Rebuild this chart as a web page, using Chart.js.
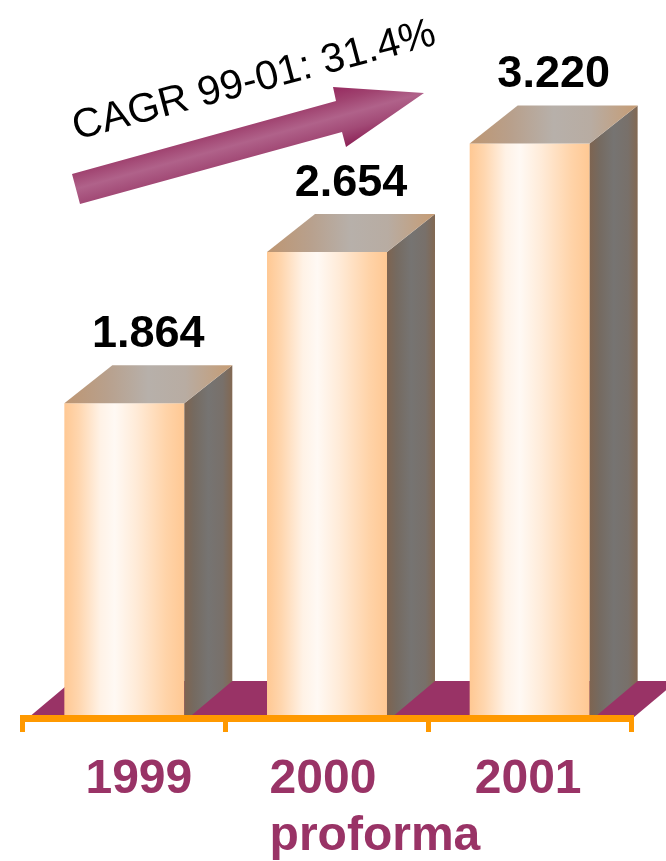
<!DOCTYPE html>
<html><head><meta charset="utf-8">
<script src="https://cdn.jsdelivr.net/npm/chart.js@4.4.1/dist/chart.umd.min.js"></script>
<style>html,body{margin:0;padding:0;background:#fff;} #wrap{width:666px;height:861px;}</style>
</head><body><div id="wrap"><canvas id="c" width="666" height="861"></canvas></div>
<script>
// ---- data ----
const categories = ['1999', ['2000', 'proforma'], '2001'];
const revenues = [1864, 2654, 3220];
const valueLabels = ['1.864', '2.654', '3.220'];
const growthLabel = 'CAGR 99-01: 31.4%';

// ---- styling ----
const FONT = '"Liberation Sans", Arial, Helvetica, sans-serif';
const PURPLE = '#993366';
const ORANGE = '#FF9900';
const DEPTH = {dx: 48, dy: 38};
const FLOOR = {dx: 44, dy: 37};
const BAR_PCT = 0.592;
const labelShift = [14.5, -4, -1.5];

function frontGradient(c) {
  const chart = c.chart;
  const xs = chart.scales && chart.scales.x;
  if (!xs || c.dataIndex === undefined || !chart.chartArea) return '#FFCC99';
  const cx = xs.getPixelForValue(c.dataIndex);
  const w = xs.width / chart.data.labels.length * BAR_PCT;
  const g = chart.ctx.createLinearGradient(cx - w / 2, 0, cx + w / 2, 0);
  g.addColorStop(0, '#FFC893');
  g.addColorStop(0.12, '#FFD6AE');
  g.addColorStop(0.3, '#FFF2E6');
  g.addColorStop(0.42, '#FFF9F4');
  g.addColorStop(0.6, '#FFEBD8');
  g.addColorStop(0.85, '#FFD3A8');
  g.addColorStop(1, '#FFC893');
  return g;
}

const decor = {
  id: 'decor',
  beforeDatasetsDraw(chart) {
    const {ctx, chartArea: a} = chart;
    const y0 = a.bottom, y1 = a.bottom - FLOOR.dy;
    const l = a.left + 5, r = a.right + 2;
    ctx.save();
    ctx.fillStyle = PURPLE;
    ctx.beginPath();
    ctx.moveTo(l, y0); ctx.lineTo(r, y0);
    ctx.lineTo(r + FLOOR.dx, y1); ctx.lineTo(l + FLOOR.dx, y1);
    ctx.closePath(); ctx.fill();
    ctx.restore();
  },
  afterDatasetsDraw(chart) {
    const {ctx, chartArea: a} = chart;
    const meta = chart.getDatasetMeta(0);
    ctx.save();
    meta.data.forEach((bar, i) => {
      const p = bar.getProps(['x', 'y', 'base', 'width'], true);
      const L = p.x - p.width / 2, R = p.x + p.width / 2, T = p.y, B = Math.min(p.base, a.bottom);
      // side face
      let g = ctx.createLinearGradient(R, 0, R + DEPTH.dx, 0);
      g.addColorStop(0, '#7E6450');
      g.addColorStop(0.2, '#756A60');
      g.addColorStop(0.5, '#767472');
      g.addColorStop(0.8, '#78706A');
      g.addColorStop(1, '#826852');
      ctx.fillStyle = g;
      ctx.beginPath();
      ctx.moveTo(R, T); ctx.lineTo(R + DEPTH.dx, T - DEPTH.dy);
      ctx.lineTo(R + DEPTH.dx, B - FLOOR.dy);
      ctx.lineTo(R + DEPTH.dx - FLOOR.dx, B);
      ctx.lineTo(R, B); ctx.closePath(); ctx.fill();
      // top face
      g = ctx.createLinearGradient(L, 0, R + DEPTH.dx, 0);
      g.addColorStop(0, '#BE9672');
      g.addColorStop(0.25, '#B8A08C');
      g.addColorStop(0.5, '#B7B0AA');
      g.addColorStop(0.72, '#B8ACA2');
      g.addColorStop(1, '#C69C74');
      ctx.fillStyle = g;
      ctx.beginPath();
      ctx.moveTo(L, T); ctx.lineTo(R, T);
      ctx.lineTo(R + DEPTH.dx, T - DEPTH.dy); ctx.lineTo(L + DEPTH.dx, T - DEPTH.dy);
      ctx.closePath(); ctx.fill();
      // value label
      ctx.fillStyle = '#000';
      ctx.font = 'bold 45px ' + FONT;
      ctx.textAlign = 'center';
      ctx.textBaseline = 'alphabetic';
      ctx.fillText(valueLabels[i], (L + R + DEPTH.dx) / 2, T - DEPTH.dy - 18);
    });
    ctx.restore();
  },
  afterDraw(chart) {
    const {ctx, chartArea: a} = chart;
    const xs = chart.scales.x;
    ctx.save();
    // category labels
    ctx.fillStyle = PURPLE;
    ctx.font = 'bold 48px ' + FONT;
    ctx.textBaseline = 'alphabetic';
    chart.data.labels.forEach((lab, i) => {
      const cx = xs.getPixelForValue(i) + labelShift[i];
      const lines = Array.isArray(lab) ? lab : [lab];
      const left = cx - ctx.measureText(lines[0]).width / 2;
      ctx.textAlign = 'left';
      lines.forEach((ln, k) => ctx.fillText(ln, left, a.bottom + 75 + k * 57));
    });
    // growth arrow
    const pts = [[72, 174], [336, 101], [333, 87], [424, 93], [346, 147], [342, 132], [80, 204]];
    const g = ctx.createLinearGradient(198, 124, 214, 182);
    g.addColorStop(0, '#96295F');
    g.addColorStop(0.25, '#A04370');
    g.addColorStop(0.5, '#B0628A');
    g.addColorStop(0.75, '#A24A76');
    g.addColorStop(1, '#8E2459');
    ctx.fillStyle = g;
    ctx.beginPath();
    pts.forEach((p, k) => k ? ctx.lineTo(p[0], p[1]) : ctx.moveTo(p[0], p[1]));
    ctx.closePath(); ctx.fill();
    // growth text
    ctx.translate(257, 92);
    ctx.rotate(-14.8 * Math.PI / 180);
    ctx.fillStyle = '#000';
    ctx.font = '41px ' + FONT;
    ctx.textAlign = 'center';
    ctx.fillText(growthLabel, 0, 0);
    ctx.restore();
  }
};

new Chart(document.getElementById('c'), {
  type: 'bar',
  data: {
    labels: categories,
    datasets: [{
      data: revenues,
      backgroundColor: frontGradient,
      borderWidth: 0,
      barPercentage: BAR_PCT,
      categoryPercentage: 1
    }]
  },
  options: {
    responsive: false,
    animation: false,
    devicePixelRatio: 1,
    layout: {padding: {left: 23, right: 35, top: 40, bottom: 0}},
    plugins: {legend: {display: false}, tooltip: {enabled: false}},
    scales: {
      x: {
        grid: {display: true, drawOnChartArea: false, drawTicks: true, tickLength: 14, color: ORANGE, lineWidth: 5, offset: true, z: 1},
        border: {display: true, color: ORANGE, width: 7, z: 1},
        ticks: {display: false},
        afterFit(s) { s.height = 143; }
      },
      y: {display: false, min: 221, max: 3760}
    }
  },
  plugins: [decor]
});
</script>
</body></html>
